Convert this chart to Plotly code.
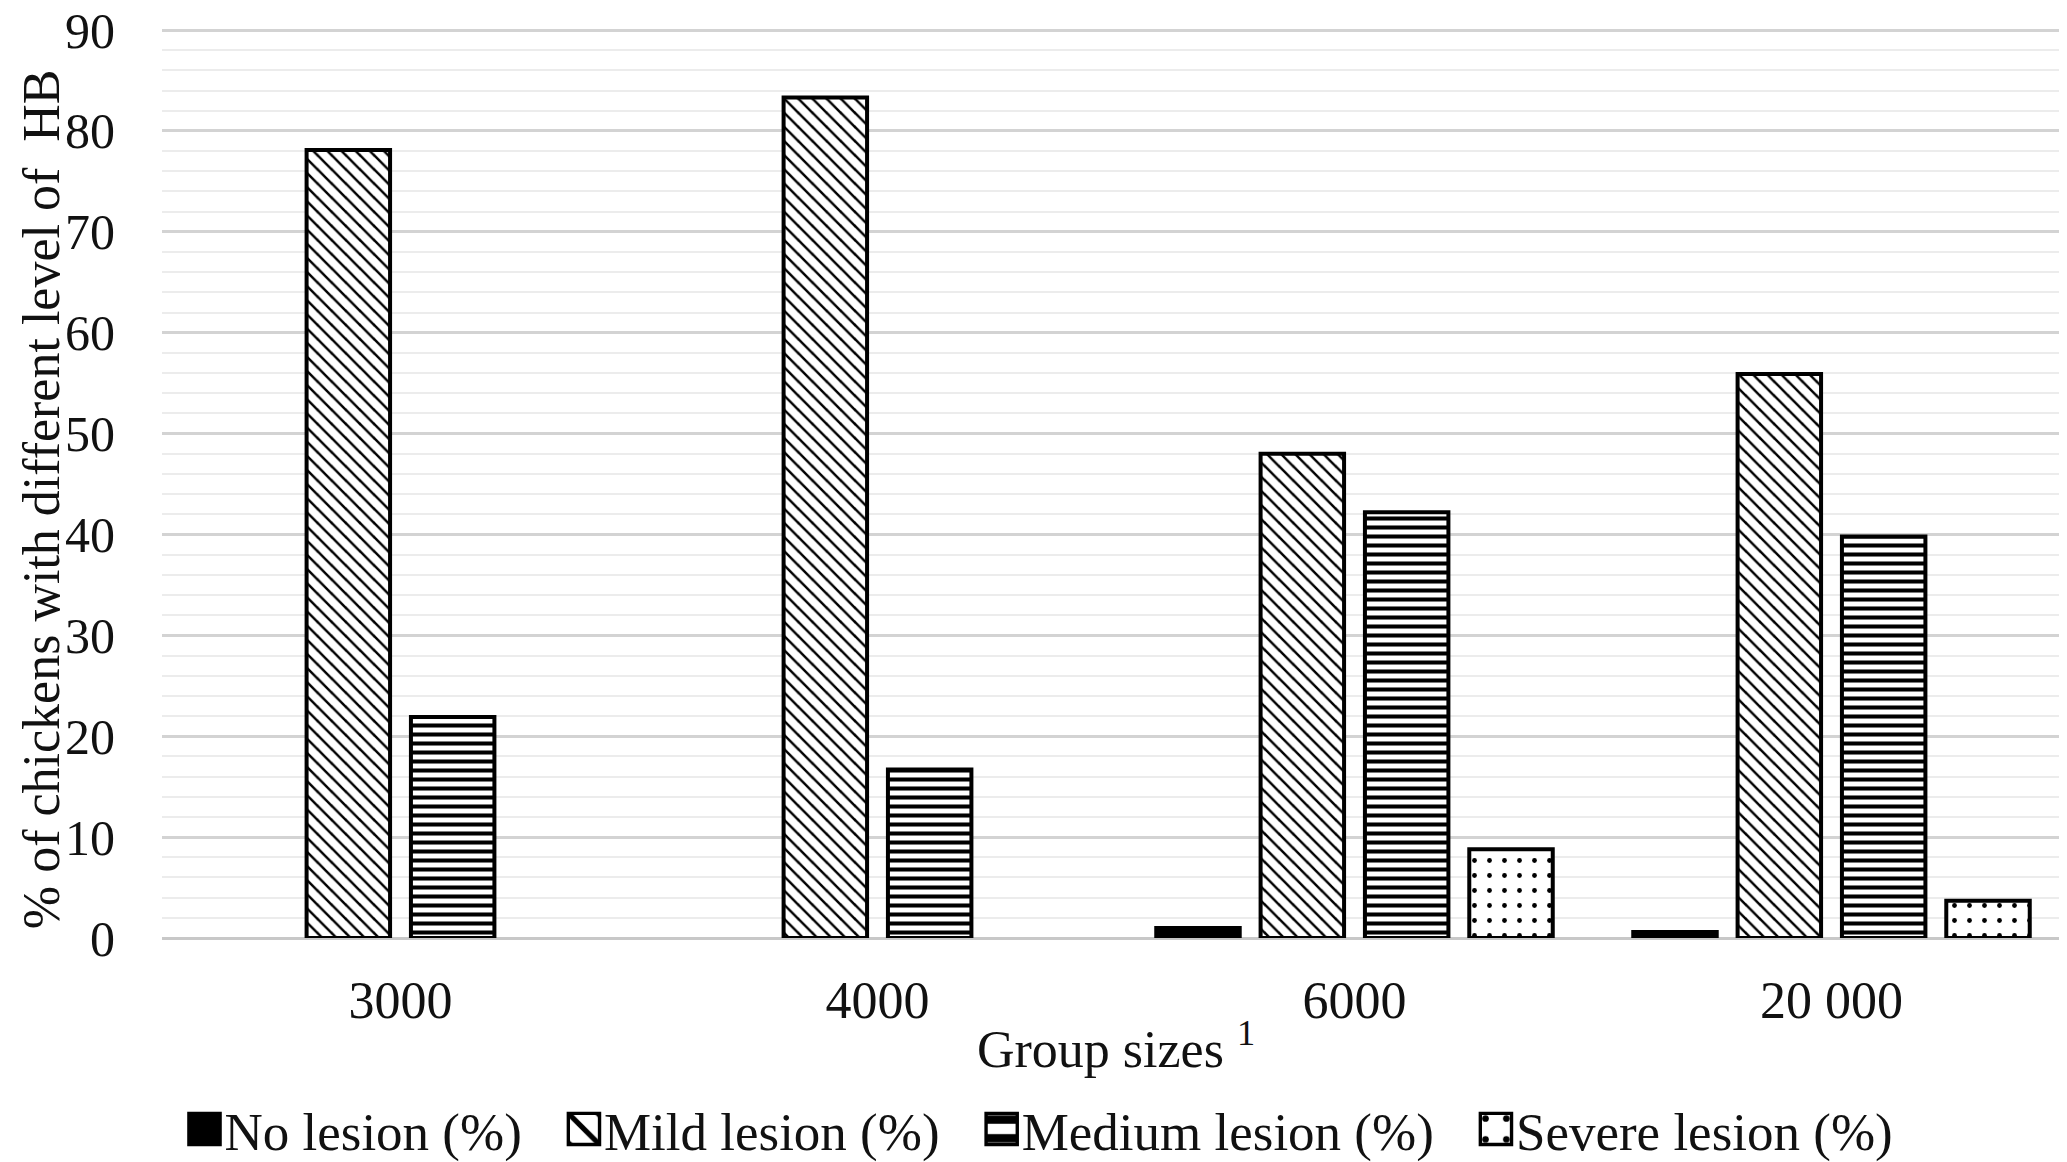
import plotly.graph_objects as go

categories = ["3000", "4000", "6000", "20 000"]
no_lesion = [0, 0, 1.0, 0.6]
mild_lesion = [78.1, 83.3, 48.0, 55.9]
medium_lesion = [21.9, 16.7, 42.2, 39.8]
severe_lesion = [0, 0, 8.8, 3.7]

series_names = ["No lesion (%)", "Mild lesion (%)", "Medium lesion (%)", "Severe lesion (%)"]
series_values = [no_lesion, mild_lesion, medium_lesion, severe_lesion]
y_title = "% of chickens with different level of  HB"
x_title = "Group sizes <sup>1</sup>"

patterns = [
    dict(shape=""),
    dict(shape="\\", size=10, solidity=0.25, fgcolor="black", bgcolor="white", fillmode="replace"),
    dict(shape="-", size=9, solidity=0.45, fgcolor="black", bgcolor="white", fillmode="replace"),
    dict(shape=".", size=15, solidity=0.08, fgcolor="black", bgcolor="white", fillmode="replace"),
]
fills = ["black", "white", "white", "white"]

FONT = "Liberation Serif"
TXT = "#111111"
GAP = "\u00a0\u00a0\u2009"

fig = go.Figure()
n = len(series_names)
for i, (name, vals, pat, fc) in enumerate(zip(series_names, series_values, patterns, fills)):
    fig.add_trace(go.Bar(
        name=name + (GAP if i < n - 1 else ""), x=categories, y=vals,
        marker=dict(color=fc, pattern=pat,
                    line=dict(color="black", width=[4 if v > 0 else 0 for v in vals])),
    ))

fig.update_layout(
    width=2067, height=1162,
    margin=dict(l=154, r=5, t=20, b=232),
    plot_bgcolor="white", paper_bgcolor="white",
    barmode="group", bargap=0.125, bargroupgap=0.2,
    font=dict(family=FONT, size=52, color=TXT),
    showlegend=True,
    legend=dict(orientation="h", xref="container", x=0.5, xanchor="center",
                yref="container", y=0.0, yanchor="bottom",
                font=dict(family=FONT, size=53, color=TXT),
                itemwidth=30, tracegroupgap=0),
    xaxis=dict(
        type="category", automargin=False,
        showgrid=False, showline=False, zeroline=False,
        ticks="outside", ticklen=17, tickcolor="rgba(0,0,0,0)",
        tickfont=dict(family=FONT, size=52, color=TXT),
        title=dict(text=x_title, standoff=2,
                   font=dict(family=FONT, size=52, color=TXT)),
    ),
    yaxis=dict(
        range=[0, 90.2], tick0=0, dtick=10, automargin=False,
        showgrid=True, gridcolor="#d3d3d3", gridwidth=3,
        zeroline=True, zerolinecolor="#c8c8c8", zerolinewidth=3,
        minor=dict(dtick=2, showgrid=True, gridcolor="#ececec", gridwidth=2),
        ticks="outside", ticklen=36, tickcolor="rgba(0,0,0,0)",
        ticklabeloverflow="allow",
        tickfont=dict(family=FONT, size=50, color=TXT),
    ),
    annotations=[dict(
        text=y_title, textangle=-90, showarrow=False,
        xref="paper", yref="paper", x=-0.063, y=0.482,
        xanchor="center", yanchor="middle",
        font=dict(family=FONT, size=52, color=TXT),
    )],
)

post = """
var gd = document.getElementById('{plot_id}');
function fixLegend(){
  gd.querySelectorAll('.legend .legendpoints path').forEach(function(p){
    if (p.getAttribute('data-scaled')) return;
    var t = p.getAttribute('transform') || '';
    p.setAttribute('transform', t + ' scale(2.6)');
    p.style.strokeWidth = '1.3px';
    p.style.stroke = 'black';
    p.setAttribute('data-scaled', '1');
  });
}
fixLegend();
gd.on('plotly_afterplot', fixLegend);
"""

fig.write_html("out.html", post_script=post)
